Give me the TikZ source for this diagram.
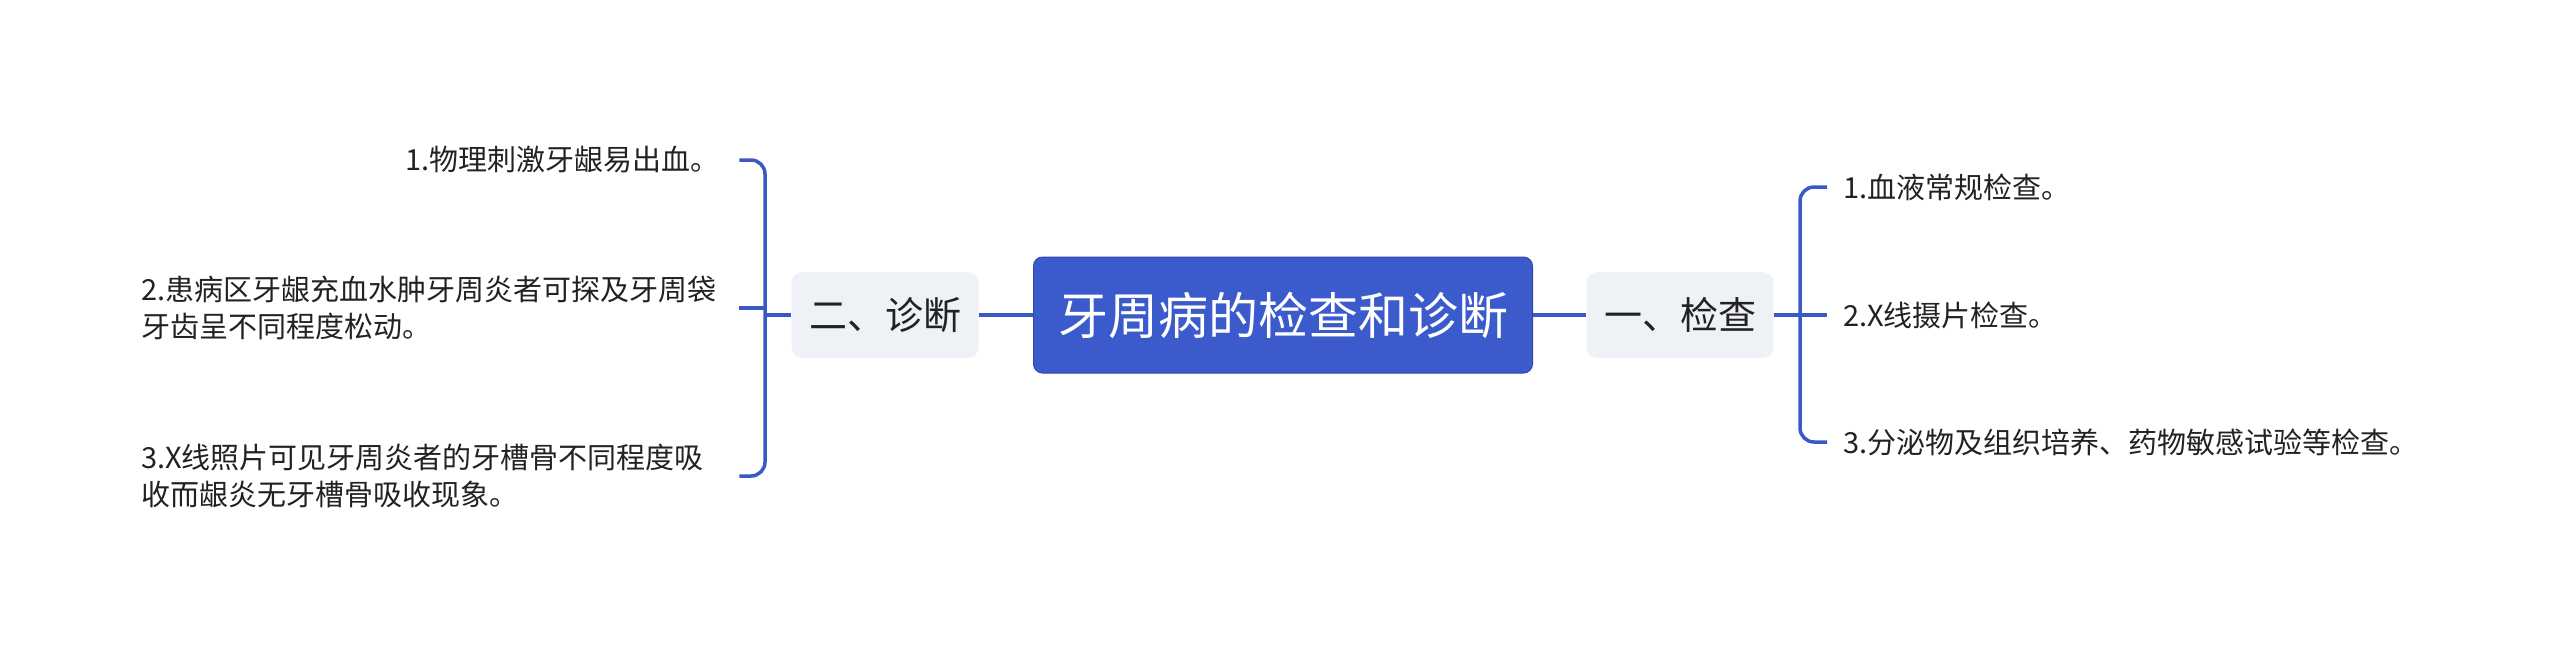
\documentclass[tikz,border=0pt]{standalone}
\usepackage{fontspec}
\setmainfont{Noto Sans CJK SC}
\definecolor{linkblue}{HTML}{3A59C6}
\definecolor{rootblue}{HTML}{3B5BCC}
\definecolor{subgray}{HTML}{EEF1F5}
\definecolor{leafink}{HTML}{222222}

\begin{document}
\begin{tikzpicture}[x=1pt,y=-1pt,
    root/.style={fill=rootblue,draw=rootblue!80!black,line width=1pt,rounded corners=9pt,
      text=white,minimum width=499pt,minimum height=116pt,inner sep=0pt,
      font=\fontsize{50}{58}\selectfont},
    sub/.style={fill=subgray,rounded corners=11pt,minimum width=187pt,minimum height=86pt,
      inner sep=0pt,text=leafink,font=\fontsize{38}{44}\selectfont},
    leaf/.style={inner sep=0pt,text=leafink,font=\fontsize{29}{37}\selectfont},
    leftleaf/.style={leaf,anchor=west,text width=578pt,align=left},
    link/.style={draw=linkblue,line width=3.5pt,rounded corners=14pt}]
  \useasboundingbox (0,0) rectangle (2560,649);
  % centre and first level
  \node[root] (root) at (1283,315) {牙周病的检查和诊断};
  \node[sub] (check) at (1680,315) {一、检查};
  \node[sub] (diag) at (885,315) {二、诊断};
  % right side
  \node[leaf,anchor=west] (c1) at (1843,187) {1.血液常规检查。};
  \node[leaf,anchor=west] (c2) at (1843,315) {2.X线摄片检查。};
  \node[leaf,anchor=west] (c3) at (1843,442) {3.分泌物及组织培养、药物敏感试验等检查。};
  % left side
  \node[leftleaf,align=right] (d1) at (141,160) {1.物理刺激牙龈易出血。};
  \node[leftleaf] (d2) at (141,308) {2.患病区牙龈充血水肿牙周炎者可探及牙周袋\\牙齿呈不同程度松动。};
  \node[leftleaf] (d3) at (141,476) {3.X线照片可见牙周炎者的牙槽骨不同程度吸\\收而龈炎无牙槽骨吸收现象。};
  \coordinate (brR) at (1800,315);
  \coordinate (brL) at (765,315);
  \draw[link] (root.east) -- (check.west);
  \draw[link] (root.west) -- (diag.east);
  \draw[link] (check.east) -- ([xshift=-16pt]c2.west);
  \draw[link] ([xshift=-16pt]c1.west) -| (brR) |- ([xshift=-16pt]c3.west);
  \draw[link] (diag.west) -- (brL);
  \draw[link] ([xshift=20pt]d1.east) -| (brL) |- ([xshift=20pt]d3.east);
  \draw[link] (d2.east -| brL) -- ([xshift=20pt]d2.east);
\end{tikzpicture}
\end{document}
